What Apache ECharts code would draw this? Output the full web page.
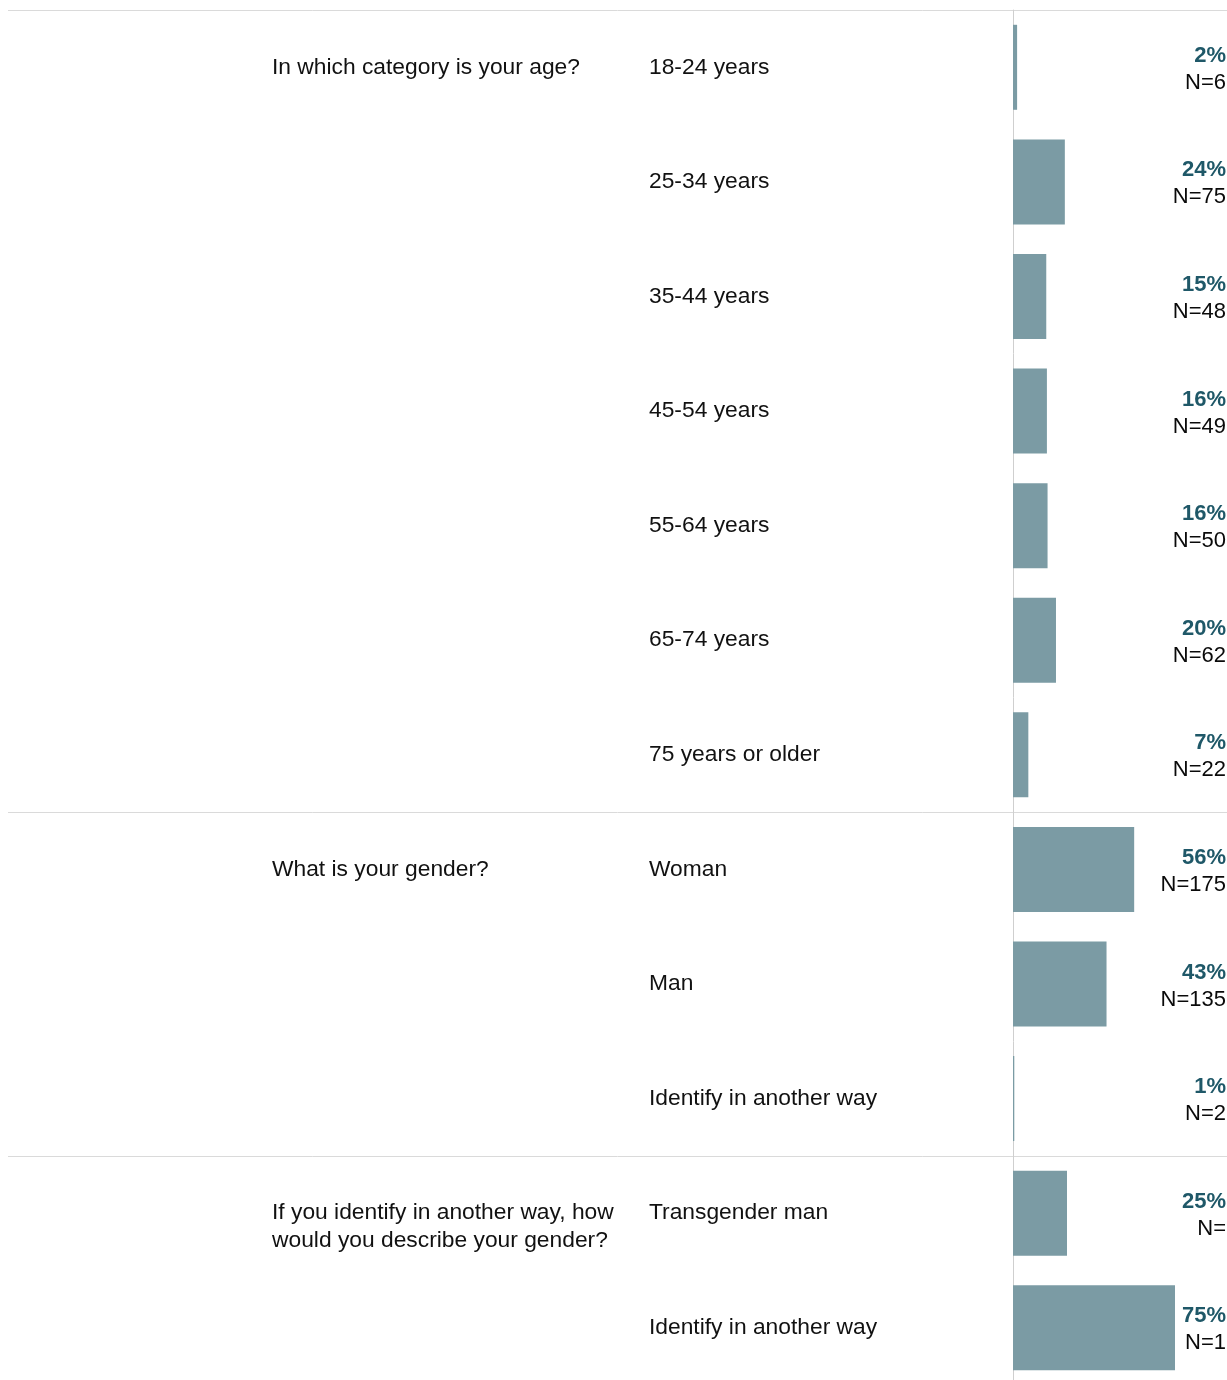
<!DOCTYPE html>
<html>
<head>
<meta charset="utf-8">
<script src="https://cdn.jsdelivr.net/npm/echarts@6/dist/echarts.min.js"></script>
<style>
html,body{margin:0;padding:0;background:#fff;overflow:hidden;width:1227px;height:1380px;}
#chart{width:1240px;height:1400px;}
</style>
</head>
<body>
<div id="chart"></div>
<script>
// ---- data ----
const answers = ["18-24 years","25-34 years","35-44 years","45-54 years","55-64 years","65-74 years","75 years or older","Woman","Man","Identify in another way","Transgender man","Identify in another way"];
const values = [1.9, 24.0, 15.4, 15.7, 16.0, 19.9, 7.1, 56.1, 43.3, 0.6, 25, 75];
const pctLabels = ["2%","24%","15%","16%","16%","20%","7%","56%","43%","1%","25%","75%"];
const nLabels = ["N=6","N=75","N=48","N=49","N=50","N=62","N=22","N=175","N=135","N=2","N=","N=1"];
const questions = ["In which category is your age?","What is your gender?","If you identify in another way, how\nwould you describe your gender?"];
const questionRows = [0, 7, 10];

const font = "'Liberation Sans', Arial, Helvetica, sans-serif";
const chart = echarts.init(document.getElementById('chart'), null, {renderer: 'canvas'});
chart.setOption({
  animation: false,
  backgroundColor: '#ffffff',
  grid: [
    {left: 1013, top: 10, width: 216, height: 1375, containLabel: false},
    {left: 8, top: 10, width: 1219, height: 1375, containLabel: false}
  ],
  xAxis: [
    {type: 'value', gridIndex: 0, min: 0, max: 100, show: false},
    {type: 'value', gridIndex: 1, min: 0, max: 100, show: false}
  ],
  yAxis: [
    {
      type: 'category', gridIndex: 0, inverse: true, data: answers, position: 'left',
      axisLine: {show: true, lineStyle: {color: '#cfcfcf', width: 1}},
      axisTick: {show: false}, splitLine: {show: false},
      axisLabel: {margin: 364, align: 'left', fontSize: 22.8, fontFamily: font, color: '#111111', padding: [2, 0, 0, 0]}
    },
    {
      type: 'category', gridIndex: 0, inverse: true, data: answers, position: 'left', offset: 0,
      axisLine: {show: false}, axisTick: {show: false}, splitLine: {show: false},
      axisLabel: {
        margin: 741, align: 'left', fontSize: 22.8, fontFamily: font, color: '#111111', lineHeight: 28,
        interval: 0, padding: [2, 0, 0, 0],
        formatter: function (v, i) {
          const q = questionRows.indexOf(i);
          if (q < 0) return '';
          const t = questions[q];
          return t.indexOf('\n') >= 0 ? '\n' + t : t;
        }
      }
    },
    {
      type: 'category', gridIndex: 0, inverse: true, data: answers, position: 'right',
      axisLine: {show: false}, axisTick: {show: false}, splitLine: {show: false},
      axisLabel: {
        margin: -3, align: 'right', interval: 0,
        formatter: function (v, i) { return '{p|' + pctLabels[i] + '}\n{n|' + nLabels[i] + '}'; },
        rich: {
          p: {fontSize: 22, fontWeight: 'bold', fontFamily: font, color: '#1f5868', lineHeight: 27, align: 'right', padding: [4, 0, 0, 0]},
          n: {fontSize: 22, fontFamily: font, color: '#0a0a0a', lineHeight: 27, align: 'right', padding: [4, 0, 0, 0]}
        }
      }
    },
    {
      type: 'category', gridIndex: 1, inverse: true, data: answers,
      axisLine: {show: false}, axisTick: {show: false}, axisLabel: {show: false},
      splitLine: {show: true, interval: function (i) { return questionRows.indexOf(i) >= 0; }, lineStyle: {color: '#dadada', width: 1}}
    }
  ],
  series: [
    {
      type: 'bar', xAxisIndex: 0, yAxisIndex: 0, data: values, barWidth: 85,
      itemStyle: {color: '#7b9ba4'}, silent: true
    }
  ]
});
</script>
</body>
</html>
